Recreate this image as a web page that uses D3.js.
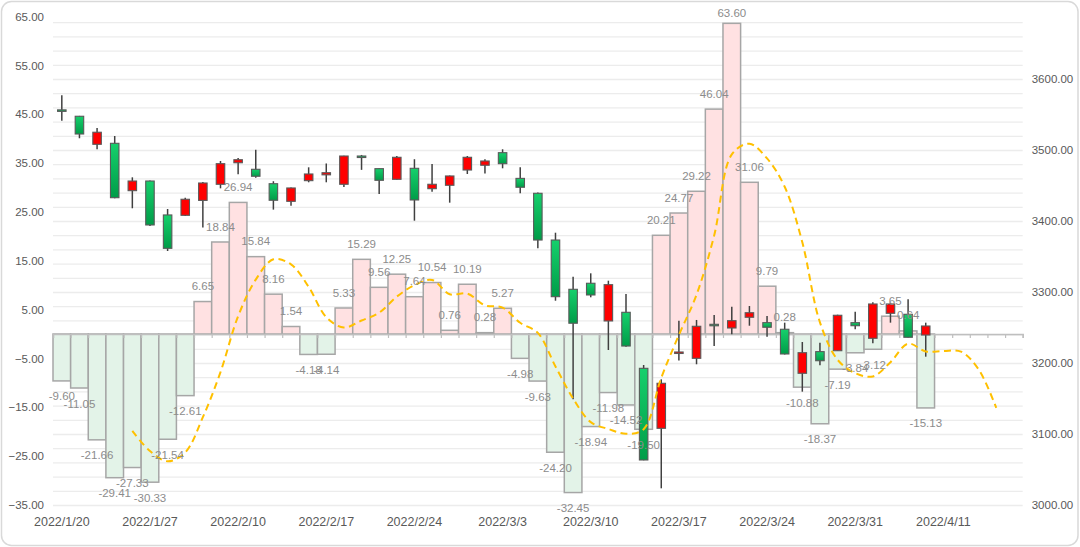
<!DOCTYPE html>
<html>
<head>
<meta charset="utf-8">
<script src="https://cdn.jsdelivr.net/npm/d3@7"></script>
<style>
  body { margin: 0; background: #fff; }
  text { font-family: "Liberation Sans", Arial, sans-serif; }
</style>
</head>
<body>
<script>
var svgWidth = 1080;
var svgHeight = 547;

var margin = { top: 16.5, right: 57.3, bottom: 42, left: 53 };

var width = svgWidth - margin.left - margin.right;
var height = svgHeight - margin.top - margin.bottom;

// trading days on the category axis
var dates = ["2022/1/20", "2022/1/21", "2022/1/24", "2022/1/25", "2022/1/26", "2022/1/27", "2022/1/28",
  "2022/2/7", "2022/2/8", "2022/2/9", "2022/2/10", "2022/2/11", "2022/2/14", "2022/2/15", "2022/2/16",
  "2022/2/17", "2022/2/18", "2022/2/21", "2022/2/22", "2022/2/23", "2022/2/24", "2022/2/25", "2022/2/28",
  "2022/3/1", "2022/3/2", "2022/3/3", "2022/3/4", "2022/3/7", "2022/3/8", "2022/3/9", "2022/3/10",
  "2022/3/11", "2022/3/14", "2022/3/15", "2022/3/16", "2022/3/17", "2022/3/18", "2022/3/21", "2022/3/22",
  "2022/3/23", "2022/3/24", "2022/3/25", "2022/3/28", "2022/3/29", "2022/3/30", "2022/3/31", "2022/4/1",
  "2022/4/6", "2022/4/7", "2022/4/8", "2022/4/11", "2022/4/12", "2022/4/13", "2022/4/14", "2022/4/15"];

// bar series (left axis)
var barValues = [-9.60, -11.05, -21.66, -29.41, -27.33, -30.33, -21.54, -12.61, 6.65, 18.84,
  26.94, 15.84, 8.16, 1.54, -4.18, -4.14, 5.33, 15.29, 9.56, 12.25,
  7.64, 10.54, 0.76, 10.19, 0.28, 5.27, -4.98, -9.63, -24.20, -32.45,
  -18.94, -11.98, -14.52, -19.50, 20.21, 24.77, 29.22, 46.04, 63.60, 31.06,
  9.79, 0.28, -10.88, -18.37, -7.19, -3.84, -3.12, 3.65, 0.64, -15.13];

// dashed average line (left axis), starts at index 4
var lineStart = 4;
var lineValues = [-19.81, -23.96, -26.05, -24.24, -17.03, -7.80, 3.66, 11.13, 15.29, 14.26,
  9.66, 3.44, 1.34, 2.77, 4.37, 7.66, 10.01, 11.06, 8.15, 8.28,
  5.88, 5.41, 2.30, 0.23, -6.65, -13.20, -18.04, -19.44, -20.42, -19.48,
  -8.95, -0.20, 8.04, 20.15, 36.77, 38.94, 35.94, 30.15, 18.77, 2.38,
  -5.27, -8.00, -8.68, -5.77, -1.97, -3.56, -3.49, -3.61, -7.25, -15.13];

// candlesticks (right axis)
var openValues = [3556.5, 3547.5, 3508, 3509.4, 3442.7, 3456.3, 3408.5, 3408, 3429, 3451.7,
  3482, 3472.8, 3452.5, 3427.7, 3456.8, 3465, 3451.7, 3491.5, 3473.7, 3458.7,
  3474.2, 3445.5, 3450.3, 3471.8, 3478.5, 3496.2, 3460, 3439, 3373.2, 3303.8,
  3312.3, 3259.2, 3271.4, 3192.5, 3108, 3215, 3206.6, 3254.5, 3249.3, 3264.4,
  3256.8, 3247.5, 3185.5, 3216, 3217.3, 3256.8, 3234.8, 3270, 3268.6, 3239.4];
var highValues = [3577, 3548, 3531, 3519.7, 3461.5, 3457, 3416.9, 3432.8, 3455, 3484.5,
  3488.7, 3500.4, 3456, 3447, 3475.6, 3481, 3492, 3493, 3474, 3491.5,
  3487, 3480.3, 3464, 3491.5, 3487, 3501, 3475.6, 3440, 3383.5, 3321.5,
  3326.3, 3315.9, 3297.2, 3197.2, 3177, 3259.6, 3260.6, 3267.6, 3279.3, 3280.3,
  3266.2, 3256.8, 3229.6, 3228.6, 3268, 3272.3, 3285.5, 3285, 3289.7, 3256.8];
var lowValues = [3541, 3516.5, 3501, 3432, 3417.9, 3393, 3357.7, 3407, 3391, 3446,
  3465.8, 3461, 3416, 3421.5, 3454.5, 3454.5, 3448, 3472, 3438, 3458,
  3400.4, 3441.3, 3425.8, 3466.2, 3467, 3474.2, 3439, 3361.5, 3287.7, 3148.9,
  3292.5, 3218.3, 3223, 3063, 3023.5, 3203.5, 3198.2, 3224, 3240.4, 3252.5,
  3237, 3212, 3159.6, 3196.8, 3217, 3247.5, 3227.7, 3256.8, 3236, 3208.9];
var closeValues = [3555.5, 3522.5, 3525, 3432.8, 3456.3, 3394.4, 3361.5, 3430.6, 3453.5, 3480.7,
  3486.3, 3463, 3429.2, 3446.5, 3466.2, 3468, 3491.5, 3490.5, 3457.3, 3489.7,
  3429.6, 3451.7, 3463.4, 3489.7, 3484.5, 3480.7, 3447.5, 3373.2, 3293.4, 3256,
  3295.8, 3310.3, 3223.9, 3063.4, 3171.4, 3215.5, 3251.7, 3253.7, 3259.6, 3270.8,
  3250.3, 3212.7, 3214.5, 3203.2, 3267.2, 3252.5, 3283.1, 3283.1, 3236.2, 3252.1];

// axis ticks
var leftTicks = [-35, -25, -15, -5, 5, 15, 25, 35, 45, 55, 65];
var rightTicks = [3000, 3100, 3200, 3300, 3400, 3500, 3600];
var gridTicks = d3.range(3000, 3681, 20);

var svg0 = d3.select("body")
  .append("svg")
  .attr("width", svgWidth)
  .attr("height", svgHeight);

// rounded chart frame
svg0.append("rect")
  .attr("x", 1.5).attr("y", 1.5)
  .attr("width", svgWidth - 3.5).attr("height", svgHeight - 3)
  .attr("rx", 10).attr("ry", 10)
  .attr("fill", "#fff")
  .attr("stroke", "#d9d9d9")
  .attr("stroke-width", 1.5);

var defs = svg0.append("defs");
var grad = defs.append("linearGradient")
  .attr("id", "greenBody")
  .attr("x1", 0).attr("y1", 0).attr("x2", 0).attr("y2", 1);
grad.append("stop").attr("offset", "0%").attr("stop-color", "#16d06c");
grad.append("stop").attr("offset", "100%").attr("stop-color", "#009c48");

var svg = svg0.append("g")
  .attr("transform", "translate(" + margin.left + "," + margin.top + ")");

var xScale = d3.scaleBand()
  .domain(d3.range(dates.length))
  .range([0, width])
  .padding(0);
var bw = xScale.bandwidth();

var yLeft = d3.scaleLinear().domain([-35, 65]).range([height, 0]);
var yRight = d3.scaleLinear().domain([3000, 3688]).range([height, 0]);

// gridlines
svg.append("g")
  .attr("class", "grid")
  .call(d3.axisLeft(yRight).tickValues(gridTicks).tickSize(-width).tickFormat(""))
  .call(function(g) { g.select(".domain").remove(); })
  .selectAll("line")
  .attr("stroke", "#ececec")
  .attr("stroke-width", 1.3);

// bars
svg.selectAll(".bar")
  .data(barValues)
  .enter()
  .append("rect")
  .attr("class", "bar")
  .attr("x", function(d, i) { return xScale(i); })
  .attr("width", bw)
  .attr("y", function(d) { return yLeft(Math.max(0, d)); })
  .attr("height", function(d) { return Math.abs(yLeft(d) - yLeft(0)); })
  .attr("fill", function(d) { return d >= 0 ? "#ffe1e2" : "#e3f3e8"; })
  .attr("stroke", "#a6a6a6")
  .attr("stroke-width", 1.5);

// category axis on the zero line
var xb = d3.scaleLinear().domain([0, dates.length]).range([0, width]);
svg.append("g")
  .attr("transform", "translate(0," + yLeft(0) + ")")
  .call(d3.axisBottom(xb).tickValues(d3.range(dates.length + 1)).tickSize(4).tickFormat(""))
  .call(function(g) {
    g.select(".domain").attr("stroke", "#bfbfbf").attr("stroke-width", 1.5);
    g.selectAll("line").attr("stroke", "#bfbfbf").attr("stroke-width", 1.2);
  });

// candlesticks
var candles = svg.selectAll(".candle")
  .data(openValues)
  .enter()
  .append("g")
  .attr("class", "candle")
  .attr("transform", function(d, i) { return "translate(" + (xScale(i) + bw / 2) + ",0)"; });

candles.append("line")
  .attr("y1", function(d, i) { return yRight(highValues[i]); })
  .attr("y2", function(d, i) { return yRight(lowValues[i]); })
  .attr("stroke", "#404040")
  .attr("stroke-width", 1.5);

var bodyW = 8.5;
candles.append("rect")
  .attr("x", -bodyW / 2)
  .attr("width", bodyW)
  .attr("y", function(d, i) { return yRight(Math.max(d, closeValues[i])); })
  .attr("height", function(d, i) { return Math.max(1.5, Math.abs(yRight(d) - yRight(closeValues[i]))); })
  .attr("fill", function(d, i) { return closeValues[i] >= d ? "#ff0000" : "url(#greenBody)"; })
  .attr("stroke", "#595959")
  .attr("stroke-width", 1.1);

// dashed average line
var line = d3.line()
  .x(function(d, i) { return xScale(i + lineStart) + bw / 2; })
  .y(function(d) { return yLeft(d); })
  .curve(d3.curveCatmullRom.alpha(0.5));

svg.append("path")
  .datum(lineValues)
  .attr("d", line)
  .attr("fill", "none")
  .attr("stroke", "#ffc000")
  .attr("stroke-width", 2)
  .attr("stroke-dasharray", "7,4.5");

// bar labels
svg.selectAll(".lbl")
  .data(barValues)
  .enter()
  .append("text")
  .attr("class", "lbl")
  .attr("x", function(d, i) { return xScale(i) + bw / 2; })
  .attr("y", function(d) {
    var y = d >= 0 ? yLeft(d) - 15.5 : yLeft(d) + 15.5;
    return Math.max(y, -3.5);
  })
  .attr("dy", "0.35em")
  .attr("text-anchor", "middle")
  .attr("font-size", "11.5px")
  .attr("fill", "#8c8c8c")
  .text(function(d) { return d.toFixed(2); });

// left axis
svg.append("g")
  .call(d3.axisLeft(yLeft).tickValues(leftTicks).tickFormat(d3.format(".2f")).tickSize(0).tickPadding(9))
  .call(function(g) { g.select(".domain").remove(); })
  .selectAll("text")
  .attr("font-size", "11.5px")
  .attr("fill", "#595959");

// right axis
svg.append("g")
  .attr("transform", "translate(" + width + ",0)")
  .call(d3.axisRight(yRight).tickValues(rightTicks).tickFormat(d3.format(".2f")).tickSize(0).tickPadding(9))
  .call(function(g) { g.select(".domain").remove(); })
  .selectAll("text")
  .attr("font-size", "11.5px")
  .attr("fill", "#595959");

// date labels
svg.append("g")
  .attr("transform", "translate(0," + height + ")")
  .call(d3.axisBottom(xScale)
    .tickValues(d3.range(0, dates.length, 5))
    .tickFormat(function(i) { return dates[i]; })
    .tickSize(0))
  .call(function(g) { g.select(".domain").remove(); })
  .selectAll("text")
  .attr("y", 17)
  .attr("dy", "0.35em")
  .attr("font-size", "12.5px")
  .attr("fill", "#595959");
</script>
</body>
</html>
